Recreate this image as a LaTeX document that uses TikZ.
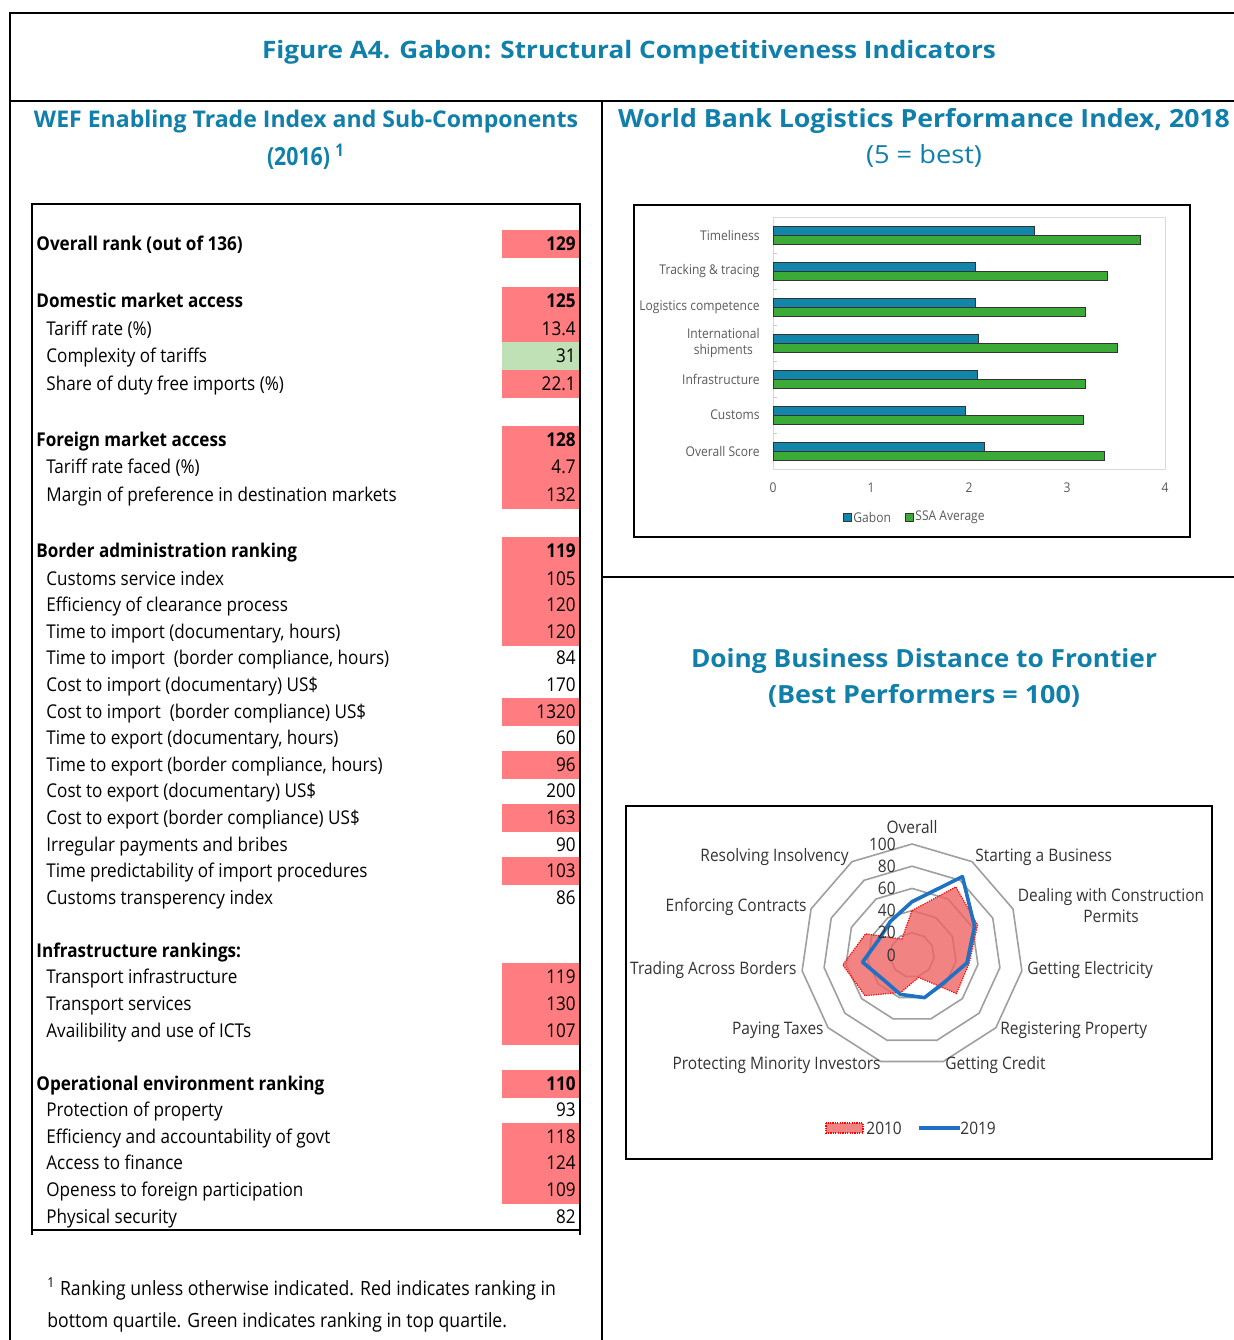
\documentclass[tikz,border=0pt]{standalone}
\usepackage{fontspec}
\setmainfont{Open Sans}[FakeStretch=0.9]
\newfontfamily\headfont{Open Sans}[FakeStretch=0.85]
\usepackage{xcolor}
\usepackage{graphicx}
\usetikzlibrary{positioning}

\definecolor{figblue}{RGB}{16,127,170}
\definecolor{badred}{RGB}{255,124,128}
\definecolor{goodgreen}{RGB}{192,225,181}
\definecolor{gabonbar}{RGB}{18,133,170}
\definecolor{ssabar}{RGB}{60,170,55}
\definecolor{oldfill}{RGB}{237,100,100}
\definecolor{newline}{RGB}{30,113,195}
\definecolor{labgray}{RGB}{89,89,89}

% squeeze a text to a given width
\newlength\fitlen
\newcommand\fitto[2]{\settowidth\fitlen{#2}\pgfmathsetmacro\fitratio{#1/\fitlen}\scalebox{\fitratio}[1]{#2}}

\begin{document}
\begin{tikzpicture}[x=0.5pt, y=-0.5pt,
  frameline/.style={line width=1pt, black},
  tblline/.style={line width=1.3pt, black},
  heading/.style={text=figblue, inner sep=0pt},
  rowhead/.style={anchor=base west, inner sep=0pt, font=\bfseries\fontsize{9.5}{11}\selectfont},
  rowsub/.style={anchor=base west, inner sep=0pt, font=\fontsize{9.5}{11}\selectfont},
  rowval/.style={anchor=base east, inner sep=0pt, font=\fontsize{9.5}{11}\selectfont},
  chartbox/.style={line width=0.8pt, black},
  barlab/.style={inner sep=0pt, text=labgray, font=\fontsize{6.7}{8}\selectfont},
  ring/.style={gray!75, line width=0.8pt},
  old2010/.style={fill=oldfill, fill opacity=0.8, draw=red, dash pattern=on 0.6pt off 0.6pt, line width=0.6pt},
  new2019/.style={draw=newline, line width=1.8pt, line join=round},
  radlab/.style={inner sep=0pt, text=black!80, font=\fontsize{8.6}{10.5}\selectfont}]
\useasboundingbox (0,0) rectangle (1234,1340);

% Frame
\draw[frameline] (1234,13) -- (10,13) -- (10,1340);
\draw[frameline] (10,101) -- (1234,101);
\draw[frameline] (602,101) -- (602,1340);
\draw[frameline] (602,577) -- (1234,577);

% Headings
\node[heading, font=\headfont\bfseries\fontsize{12}{14}\selectfont] (title) at (629,52)
  {\fitto{367pt}{Figure A4. Gabon: Structural Competitiveness Indicators}};
\node[heading, font=\headfont\bfseries\fontsize{11.5}{13}\selectfont] (wef) at (306,122)
  {\fitto{272pt}{WEF Enabling Trade Index and Sub-Components}};
\node[heading, font=\headfont\bfseries\fontsize{12.5}{14}\selectfont] (wefyear) at (306,157)
  {(2016) \textsuperscript{1}};
\node[heading, font=\headfont\bfseries\fontsize{12.5}{14}\selectfont] (lpi) at (924,121)
  {\fitto{306pt}{World Bank Logistics Performance Index, 2018}};
\node[heading, font=\headfont\fontsize{12.5}{14}\selectfont] (lpinote) at (924,156)
  {\fitto{58pt}{(5 = best)}};
\node[heading, font=\headfont\bfseries\fontsize{12.5}{14}\selectfont] (dbtitle) at (924,661)
  {\fitto{233pt}{Doing Business Distance to Frontier}};
\node[heading, font=\headfont\bfseries\fontsize{12.5}{14}\selectfont] (dbnote) at (924,696)
  {\fitto{156pt}{(Best Performers = 100)}};

% Table cells
\foreach \yy in {244,301,329,384,440,467,495,551,579,605,632,712,765,818,871,977,1004,1031,1084,1137,1163,1190}
  \fill[badred] (502,\yy-14) rectangle (579,\yy+14);
\fill[goodgreen] (502,356-14) rectangle (579,356+14);

% Table border
\draw[tblline] (32,1235) -- (32,204) -- (580,204) -- (580,1235);
\draw[tblline] (32,1230) -- (580,1230);

% Group rows
\foreach \yy/\lab/\val in {244/{Overall rank (out of 136)}/129, 301/{Domestic market access}/125,
    440/{Foreign market access}/128, 551/{Border administration ranking}/119,
    951/{Infrastructure rankings:}/{}, 1084/{Operational environment ranking}/110} {
  \node[rowhead] (h\yy) at (36,\yy+6) {\lab};
  \node[rowval, font=\bfseries\fontsize{9.5}{11}\selectfont] (hv\yy) at (576,\yy+6) {\val};
}

% Item rows
\foreach \yy/\lab/\val in {329/{Tariff rate (\%)}/13.4, 356/{Complexity of tariffs}/31,
    384/{Share of duty free imports (\%)}/22.1, 467/{Tariff rate faced (\%)}/4.7,
    495/{Margin of preference in destination markets}/132, 579/{Customs service index}/105,
    605/{Efficiency of clearance process}/120, 632/{Time to import (documentary, hours)}/120,
    658/{Time to import\ \ (border compliance, hours)}/84, 685/{Cost to import (documentary) US\$}/170,
    712/{Cost to import\ \ (border compliance) US\$}/1320, 738/{Time to export (documentary, hours)}/60,
    765/{Time to export (border compliance, hours)}/96, 791/{Cost to export (documentary) US\$}/200,
    818/{Cost to export (border compliance) US\$}/163, 845/{Irregular payments and bribes}/90,
    871/{Time predictability of import procedures}/103, 898/{Customs transperency index}/86,
    977/{Transport infrastructure}/119, 1004/{Transport services}/130,
    1031/{Availibility and use of ICTs}/107, 1110/{Protection of property}/93,
    1137/{Efficiency and accountability of govt}/118, 1163/{Access to finance}/124,
    1190/{Openess to foreign participation}/109, 1217/{Physical security}/82} {
  \node[rowsub] (s\yy) at (46,\yy+6) {\lab};
  \node[rowval] (sv\yy) at (576,\yy+6) {\val};
}

% Footnote
\node[rowsub, font=\fontsize{9.8}{11}\selectfont] (note1) at (47,1295)
  {\textsuperscript{1} Ranking unless otherwise indicated. Red indicates ranking in};
\node[rowsub, font=\fontsize{9.8}{11}\selectfont] (note2) at (47,1327)
  {bottom quartile. Green indicates ranking in top quartile.};

% Logistics bar chart
\draw[chartbox] (634,205) rectangle (1190,537);
\draw[gray!30, line width=0.5pt] (773,217) rectangle (1165,469);
\foreach \i in {1,...,6}
  \draw[gray!40, line width=0.5pt] (773,217+36*\i) -- (777,217+36*\i);
\foreach \i/\lab/\g/\s in {0/Timeliness/2.67/3.75, 1/{Tracking \& tracing}/2.07/3.41,
    2/{Logistics competence}/2.07/3.19, 3/{International\\shipments}/2.10/3.51,
    4/Infrastructure/2.09/3.19, 5/Customs/1.96/3.17, 6/{Overall Score}/2.16/3.38} {
  \filldraw[fill=gabonbar, draw=black!80, line width=0.4pt] (773,235+36*\i-9) rectangle (773+98*\g,235+36*\i);
  \filldraw[fill=ssabar, draw=black!80, line width=0.4pt] (773,235+36*\i) rectangle (773+98*\s,235+36*\i+9);
  \node[barlab, anchor=east, align=center] (cat\i) at (760,235+36*\i) {\lab};
}
\foreach \t in {0,...,4}
  \node[barlab] (tick\t) at (773+98*\t,488) {\t};
\filldraw[fill=gabonbar, draw=black!80, line width=0.4pt] (843,513) rectangle (851,521);
\node[barlab, anchor=west] (keygabon) at (853,517) {Gabon};
\filldraw[fill=ssabar, draw=black!80, line width=0.4pt] (905,513) rectangle (913,521);
\node[barlab, anchor=west] (keyssa) at (915,517) {SSA Average};

% Doing Business radar chart
\draw[chartbox] (626,806) rectangle (1212,1159);
\begin{scope}[shift={(912,955)}, yscale=-1]
  \foreach \r in {20,40,...,100}
    \draw[ring] (90:\r*1.11) \foreach \k in {1,...,10} { -- (90-\k*360/11:\r*1.11) } -- cycle;
  \filldraw[old2010] (90:40*1.11) \foreach \v [count=\k] in {73,65,52,53,21,35,56,63,46,17} { -- (90-\k*360/11:\v*1.11) } -- cycle;
  \draw[new2019] (90:48*1.11) \foreach \v [count=\k] in {84,62,50,38,40,37,34,45,33,36} { -- (90-\k*360/11:\v*1.11) } -- cycle;
\end{scope}
\foreach \v in {0,20,...,100}
  \node[radlab, anchor=east] (scale\v) at (896,955-1.11*\v) {\v};

\node[radlab] (rOverall) at (912,827) {Overall};
\node[radlab, anchor=west] (rStart) at (975,857) {Starting a Business};
\node[radlab, align=center] (rPermits) at (1111,906) {Dealing with Construction\\Permits};
\node[radlab, anchor=west] (rPower) at (1027,970) {Getting Electricity};
\node[radlab, anchor=west] (rProperty) at (1000,1030) {Registering Property};
\node[radlab, anchor=west] (rCredit) at (945,1065) {Getting Credit};
\node[radlab, anchor=east] (rInvest) at (881,1065) {Protecting Minority Investors};
\node[radlab, anchor=east] (rTax) at (824,1030) {Paying Taxes};
\node[radlab, anchor=east] (rTrade) at (797,970) {Trading Across Borders};
\node[radlab, anchor=east] (rContract) at (807,907) {Enforcing Contracts};
\node[radlab, anchor=east] (rInsolv) at (849,857) {Resolving Insolvency};

% Radar legend
\filldraw[old2010] (826,1123) rectangle (863,1133);
\node[radlab, anchor=west] (key2010) at (866,1128) {2010};
\coordinate (lineA) at (919,1128);
\node[radlab, anchor=west] (key2019) at (960,1128) {2019};
\draw[new2019] (lineA) -- (key2019.west);

\end{tikzpicture}
\end{document}
